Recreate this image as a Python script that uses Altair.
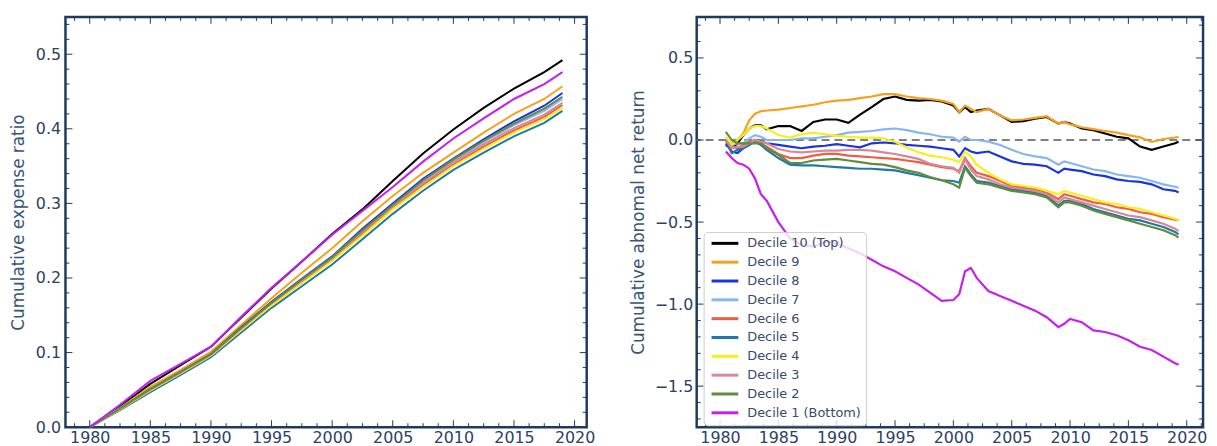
import altair as alt
import pandas as pd

DECILES = ["Decile 10 (Top)", "Decile 9", "Decile 8", "Decile 7", "Decile 6",
           "Decile 5", "Decile 4", "Decile 3", "Decile 2", "Decile 1 (Bottom)"]
COLORS = ["#000000", "#f5a11c", "#1a32e0", "#86b6ee", "#f25c45",
          "#1f78a8", "#f5f01a", "#d6889a", "#608c3c", "#c61ef0"]

# ---- Left panel: cumulative expense ratio ----
L_YEARS = [1980, 1982.5, 1985, 1987.5, 1990, 1992.5, 1995, 1997.5, 2000,
           2002.5, 2005, 2007.5, 2010, 2012.5, 2015, 2017.5, 2019]
L_D10 = [0, 0.028, 0.058, 0.083, 0.108, 0.147, 0.186, 0.222, 0.259, 0.292, 0.330, 0.367, 0.399, 0.428, 0.454, 0.476, 0.492]
L_D9 = [0, 0.026, 0.054, 0.077, 0.101, 0.137, 0.173, 0.207, 0.240, 0.276, 0.310, 0.341, 0.368, 0.395, 0.420, 0.440, 0.457]
L_D8 = [0, 0.025, 0.051, 0.074, 0.098, 0.134, 0.168, 0.199, 0.229, 0.266, 0.300, 0.333, 0.360, 0.386, 0.410, 0.431, 0.448]
L_D7 = [0, 0.025, 0.050, 0.073, 0.097, 0.132, 0.166, 0.197, 0.227, 0.263, 0.297, 0.329, 0.357, 0.382, 0.405, 0.424, 0.440]
L_D6 = [0, 0.024, 0.049, 0.072, 0.096, 0.131, 0.165, 0.195, 0.225, 0.260, 0.294, 0.325, 0.352, 0.376, 0.398, 0.416, 0.432]
L_D5 = [0, 0.023, 0.047, 0.070, 0.094, 0.127, 0.160, 0.189, 0.218, 0.252, 0.286, 0.317, 0.345, 0.368, 0.390, 0.408, 0.424]
L_D4 = [0, 0.024, 0.049, 0.072, 0.096, 0.130, 0.163, 0.193, 0.223, 0.257, 0.292, 0.322, 0.350, 0.373, 0.395, 0.413, 0.428]
L_D3 = [0, 0.025, 0.050, 0.073, 0.097, 0.132, 0.166, 0.196, 0.226, 0.262, 0.296, 0.327, 0.355, 0.379, 0.401, 0.419, 0.435]
L_D2 = [0, 0.025, 0.051, 0.074, 0.098, 0.133, 0.167, 0.198, 0.228, 0.264, 0.298, 0.331, 0.359, 0.384, 0.407, 0.427, 0.443]
L_D1 = [0, 0.030, 0.062, 0.085, 0.108, 0.148, 0.187, 0.222, 0.258, 0.290, 0.322, 0.356, 0.387, 0.414, 0.440, 0.460, 0.476]

# ---- Right panel: cumulative abnormal net return ----
R_YEARS = [1980.5, 1981, 1981.5, 1982, 1982.5, 1983, 1983.5, 1984,
           1985, 1986, 1987, 1988, 1989, 1990, 1991, 1992, 1993, 1994, 1995, 1996, 1997, 1998, 1999,
           2000, 2000.5, 2001, 2001.5,
           2002, 2003, 2004, 2005, 2006, 2007, 2008, 2009,
           2009.5,
           2010, 2011, 2012, 2013, 2014, 2015, 2016, 2017, 2018, 2019,
           2019.3]
R_D10 = [-0.03, -0.05, -0.02, 0.03, 0.07, 0.09, 0.09, 0.065,
         0.085, 0.085, 0.055, 0.11, 0.125, 0.125, 0.105, 0.155, 0.20, 0.25, 0.265, 0.245, 0.24, 0.245, 0.235,
         0.21, 0.17, 0.20, 0.17,
         0.18, 0.19, 0.15, 0.11, 0.115, 0.13, 0.14, 0.10,
         0.11,
         0.10, 0.07, 0.06, 0.04, 0.02, 0.01, -0.04, -0.06, -0.04, -0.02,
         -0.01]
R_D9 = [0.0, -0.02, 0.0, 0.04, 0.12, 0.16, 0.175, 0.18,
        0.185, 0.195, 0.205, 0.215, 0.23, 0.24, 0.245, 0.255, 0.265, 0.28, 0.28, 0.265, 0.255, 0.25, 0.24,
        0.22, 0.17, 0.21, 0.19,
        0.17, 0.19, 0.15, 0.12, 0.125, 0.135, 0.145, 0.10,
        0.11,
        0.095, 0.078, 0.066, 0.055, 0.045, 0.03, 0.016, -0.012, 0.006, 0.015,
        0.02]
R_D8 = [-0.02, -0.07, -0.08, -0.05, -0.03, 0.0, -0.01, -0.02,
        -0.03, -0.04, -0.05, -0.04, -0.035, -0.025, -0.035, -0.045, -0.02, -0.015, -0.02, -0.03, -0.035, -0.04, -0.05,
        -0.06, -0.10, -0.05, -0.07,
        -0.08, -0.07, -0.10, -0.13, -0.145, -0.15, -0.16, -0.20,
        -0.175,
        -0.18, -0.19, -0.21, -0.22, -0.24, -0.25, -0.255, -0.27, -0.30, -0.31,
        -0.32]
R_D7 = [0.0, -0.03, -0.02, -0.02, 0.01, 0.03, 0.02, 0.0,
        0.0, 0.0, 0.01, 0.01, 0.02, 0.03, 0.045, 0.05, 0.055, 0.065, 0.07, 0.06, 0.045, 0.035, 0.02,
        0.015, -0.01, 0.02, 0.0,
        0.0, -0.01, -0.03, -0.06, -0.085, -0.10, -0.11, -0.15,
        -0.13,
        -0.14, -0.16, -0.18, -0.19, -0.21, -0.22, -0.23, -0.25, -0.27, -0.285,
        -0.29]
R_D6 = [0.0, -0.04, -0.05, -0.03, -0.01, 0.0, -0.02, -0.04,
        -0.085, -0.11, -0.11, -0.095, -0.085, -0.085, -0.095, -0.10, -0.105, -0.11, -0.115, -0.125, -0.135, -0.15, -0.165,
        -0.175, -0.19, -0.11, -0.16,
        -0.20, -0.22, -0.25, -0.28, -0.29, -0.30, -0.32, -0.36,
        -0.33,
        -0.34, -0.36, -0.38, -0.39, -0.41, -0.42, -0.44, -0.45, -0.47, -0.485,
        -0.49]
R_D5 = [0.0, -0.08, -0.06, -0.05, -0.03, -0.01, -0.03, -0.06,
        -0.11, -0.15, -0.155, -0.155, -0.16, -0.165, -0.17, -0.175, -0.175, -0.18, -0.185, -0.20, -0.215, -0.23, -0.245,
        -0.25, -0.26, -0.16, -0.21,
        -0.25, -0.26, -0.28, -0.30, -0.31, -0.32, -0.34, -0.40,
        -0.37,
        -0.37, -0.39, -0.42, -0.44, -0.46, -0.48, -0.49, -0.51, -0.53, -0.56,
        -0.575]
R_D4 = [0.02, -0.03, 0.0, 0.03, 0.07, 0.085, 0.085, 0.07,
        0.03, 0.015, 0.035, 0.045, 0.035, 0.025, 0.02, 0.015, 0.015, 0.01, -0.01, -0.045, -0.075, -0.095, -0.105,
        -0.12, -0.135, -0.07, -0.10,
        -0.15, -0.20, -0.24, -0.27, -0.28, -0.29, -0.31, -0.33,
        -0.31,
        -0.32, -0.34, -0.36, -0.38, -0.39, -0.41, -0.42, -0.44, -0.46, -0.48,
        -0.49]
R_D3 = [0.0, -0.05, -0.04, -0.04, -0.02, 0.0, -0.01, -0.02,
        -0.055, -0.07, -0.075, -0.07, -0.065, -0.065, -0.06, -0.06, -0.065, -0.075, -0.085, -0.10, -0.115, -0.145, -0.16,
        -0.17, -0.20, -0.12, -0.18,
        -0.22, -0.24, -0.27, -0.29, -0.30, -0.31, -0.33, -0.38,
        -0.35,
        -0.36, -0.38, -0.40, -0.42, -0.44, -0.46, -0.47, -0.49, -0.51, -0.54,
        -0.555]
R_D2 = [0.05, 0.0, -0.02, -0.02, -0.02, -0.02, -0.02, -0.05,
        -0.09, -0.14, -0.14, -0.125, -0.12, -0.115, -0.125, -0.135, -0.145, -0.15, -0.165, -0.185, -0.20, -0.225, -0.245,
        -0.27, -0.29, -0.17, -0.22,
        -0.26, -0.27, -0.29, -0.31, -0.32, -0.33, -0.35, -0.41,
        -0.38,
        -0.38, -0.40, -0.43, -0.45, -0.47, -0.49, -0.51, -0.53, -0.55, -0.58,
        -0.595]
R_D1 = [-0.07, -0.11, -0.14, -0.15, -0.175, -0.235, -0.33, -0.37,
        -0.50, -0.60, -0.64, -0.65, -0.62, -0.63, -0.66, -0.69, -0.73, -0.77, -0.80, -0.84, -0.88, -0.93, -0.98,
        -0.975, -0.94, -0.80, -0.78,
        -0.84, -0.92, -0.95, -0.98, -1.01, -1.04, -1.08, -1.14,
        -1.12,
        -1.09, -1.11, -1.16, -1.17, -1.19, -1.22, -1.26, -1.28, -1.32, -1.36,
        -1.37]

X_MAJOR = [1980, 1985, 1990, 1995, 2000, 2005, 2010, 2015, 2020]
L_Y_MAJOR = [0.0, 0.1, 0.2, 0.3, 0.4, 0.5]
R_Y_MAJOR = [-1.5, -1.0, -0.5, 0.0, 0.5]

NAVY = "#1f3a5f"
LABEL_C = "#2b4263"
TITLE_C = "#36557a"
FONT = "DejaVu Sans"


def long_df(years, series):
    rows = []
    for name, vals in zip(DECILES, series):
        for yr, v in zip(years, vals):
            rows.append({"year": yr, "value": v, "decile": name})
    return pd.DataFrame(rows)


left_df = long_df(L_YEARS, [L_D10, L_D9, L_D8, L_D7, L_D6, L_D5, L_D4, L_D3, L_D2, L_D1])
right_df = long_df(R_YEARS, [R_D10, R_D9, R_D8, R_D7, R_D6, R_D5, R_D4, R_D3, R_D2, R_D1])


def panel(df, x_dom, y_dom, y_major, y_minor, title, W, H, title_x, label_pad, legend, zero_line):
    xs = alt.Scale(domain=x_dom, nice=False, zero=False)
    ys = alt.Scale(domain=y_dom, nice=False, zero=False)
    x_axis = alt.Axis(values=X_MAJOR, format="d", title=None, ticks=False, tickSize=0,
                      domain=False, grid=False, labelFontSize=16, labelFont=FONT,
                      labelColor=LABEL_C, labelPadding=2, labelFlush=False)
    y_axis = alt.Axis(values=y_major, format=".1f", title=title, ticks=False, tickSize=0,
                      domain=False, grid=False, labelFontSize=16, labelFont=FONT,
                      labelColor=LABEL_C, labelPadding=label_pad,
                      titleFontSize=17, titleFont=FONT, titleColor=TITLE_C,
                      titleFontWeight="normal", titleAngle=-90, titleAlign="center",
                      titleBaseline="middle", titleX=title_x, titleY=H / 2)
    x_minor = [round(1978.75 + 1.25 * i, 2) for i in range(40)]
    x_minor = [v for v in x_minor if v % 5 != 0 and x_dom[0] <= v <= x_dom[1]]
    if legend:
        leg = alt.Legend(orient="none", legendX=7, legendY=217, title=None,
                         labelFontSize=13, labelFont=FONT, labelColor="#3a4a6a",
                         symbolType="M-2.7,0H2.7", symbolSize=100, symbolStrokeWidth=3,
                         symbolOffset=10, labelOffset=16, rowPadding=5,
                         fillColor="rgba(255,255,255,0.8)", strokeColor="#cccccc", padding=5,
                         cornerRadius=4)
    else:
        leg = None
    lines = alt.Chart(df).mark_line(strokeWidth=2.2 if zero_line else 2.0, clip=True).encode(
        x=alt.X("year:Q", scale=xs, axis=x_axis),
        y=alt.Y("value:Q", scale=ys, axis=y_axis),
        color=alt.Color("decile:N", scale=alt.Scale(domain=DECILES, range=COLORS),
                        sort=DECILES, legend=leg),
        order=alt.Order("year:Q"),
    )
    layers = []
    if zero_line:
        zdf = pd.DataFrame({"value": [0.0]})
        layers.append(alt.Chart(zdf).mark_rule(color="#808080", strokeWidth=2, strokeDash=[8, 5]).encode(
            y=alt.Y("value:Q", scale=ys, axis=y_axis)))
    layers.append(lines)
    maj, mnr = 7, 4
    for vals, ln in ((X_MAJOR, maj), (x_minor, mnr)):
        d = pd.DataFrame({"year": vals})
        enc_x = alt.X("year:Q", scale=xs, axis=x_axis)
        layers.append(alt.Chart(d).mark_rule(color=NAVY, strokeWidth=1).encode(
            x=enc_x, y=alt.value(H), y2=alt.value(H - ln)))
        layers.append(alt.Chart(d).mark_rule(color=NAVY, strokeWidth=1).encode(
            x=enc_x, y=alt.value(0), y2=alt.value(ln)))
    for vals, ln in ((y_major, maj), (y_minor, mnr)):
        d = pd.DataFrame({"value": [v for v in vals if y_dom[0] <= v <= y_dom[1]]})
        enc_y = alt.Y("value:Q", scale=ys, axis=y_axis)
        layers.append(alt.Chart(d).mark_rule(color=NAVY, strokeWidth=1).encode(
            y=enc_y, x=alt.value(0), x2=alt.value(ln)))
        layers.append(alt.Chart(d).mark_rule(color=NAVY, strokeWidth=1).encode(
            y=enc_y, x=alt.value(W), x2=alt.value(W - ln)))
    return alt.layer(*layers).properties(width=W, height=H)


H = 414
L_Y_MINOR = [round(0.02 * i, 2) for i in range(28) if i % 5 != 0]
R_Y_MINOR = [round(-1.7 + 0.1 * i, 1) for i in range(25)]
R_Y_MINOR = [v for v in R_Y_MINOR if abs(v * 2 - round(v * 2)) > 1e-6]

left = panel(left_df, [1978, 2021], [0, 0.55], L_Y_MAJOR, L_Y_MINOR,
             "Cumulative expense ratio", 526, H, -47, 5, False, False)
right = panel(right_df, [1978, 2021.4], [-1.75, 0.75], R_Y_MAJOR, R_Y_MINOR,
              "Cumulative abnomal net return", 511, H, -59, 4, True, True)

chart = alt.hconcat(left, right, spacing=31).resolve_scale(color="independent").resolve_legend(
    color="independent").properties(
    padding={"left": 0, "top": 5, "right": 0, "bottom": 0}, background="white"
).configure_view(stroke=NAVY, strokeWidth=2.5)

chart.save("out.html", embed_options={"renderer": "svg", "actions": False})
